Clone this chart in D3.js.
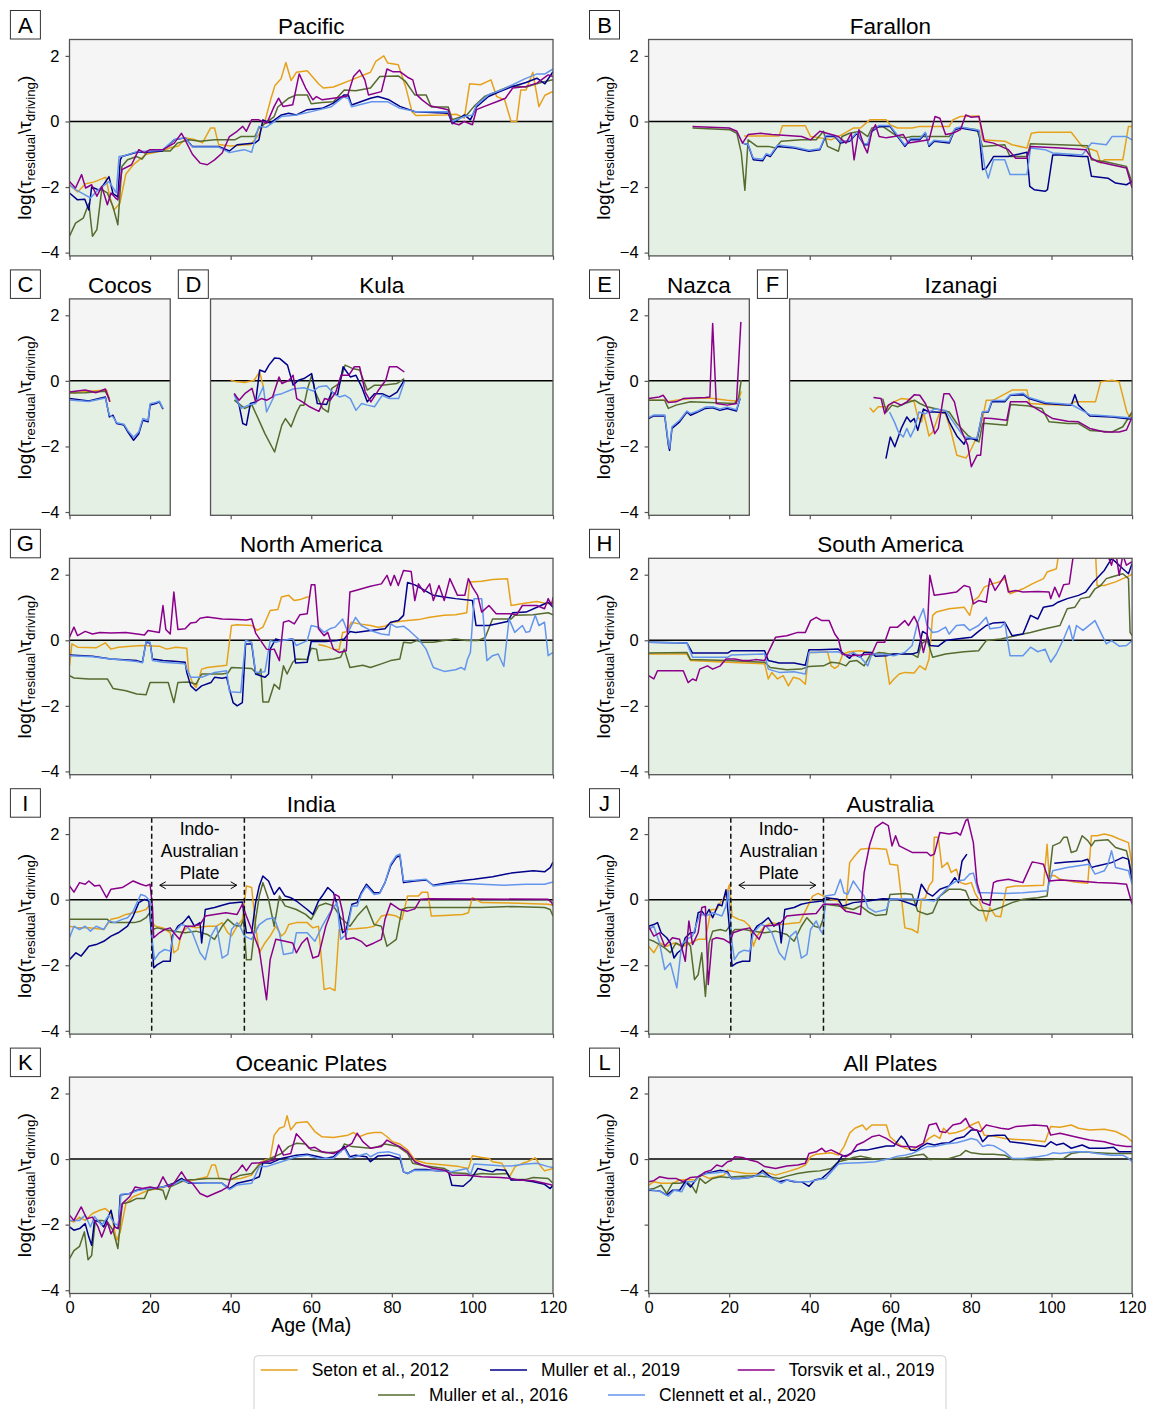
<!DOCTYPE html>
<html>
<head>
<meta charset="utf-8">
<script src="https://cdn.jsdelivr.net/npm/d3@7"></script>
<style>
  body { margin: 0; background: #fff; }
  text { font-family: "Liberation Sans", Arial, Helvetica, sans-serif; fill: #000; }
</style>
</head>
<body>
<svg id="fig" width="1158" height="1409"></svg>
<script>
// ---------- series names (plot order) ----------
const seriesNames = ["Seton et al., 2012", "Muller et al., 2016", "Muller et al., 2019", "Clennett et al., 2020", "Torsvik et al., 2019"];
const xTickValues = [0, 20, 40, 60, 80, 100, 120];
const yTickValues = [2, 0, -2, -4];
const yTickLabels = ["2", "0", "\u22122", "\u22124"];
const yTickLabelsAllPlates = ["2", "0", "", "\u22124"];
const indoAustralianSpan = [20.4, 43.4];

// ---------- A: Pacific ----------
const pacSeton = [[0,-1.93],[2,-2.15],[4,-1.9],[6,-1.85],[8,-1.75],[9,-1.7],[10,-2.3],[11,-2.7],[12.5,-2.5],[14,-1.6],[16,-1.3],[17,-1.2],[19,-1.0],[21,-0.95],[23,-0.9],[25,-0.8],[27,-0.75],[29,-0.5],[31,-0.55],[33,-0.65],[35,-0.2],[36,-0.2],[37,-0.7],[40,-0.75],[43,-0.72],[45,-0.7],[47,-0.4],[48.5,0],[50,0.7],[51,1.1],[52.5,1.3],[53.7,1.8],[55,1.25],[56.3,1.5],[59,1.55],[61.8,1.15],[63,1.02],[65.5,1.05],[70,1.27],[74.7,1.5],[76,1.83],[78,2.0],[79,1.78],[81.6,1.73],[83.4,1.07],[85,0.3],[86,0.18],[93,0.2],[96,0.22],[98,0.1],[99.3,1.15],[102,1.12],[104.6,1.27],[106,0.76],[108,0.66],[109.6,0],[111,0],[112,0.96],[113.3,0.96],[115,1.5],[116.5,0.45],[118,0.8],[120,0.92]];
const pacMuller16 = [[0,-3.5],[1.5,-3.1],[3.4,-2.95],[4.8,-2.5],[5.7,-3.5],[6.8,-3.3],[8,-2.08],[9.4,-2.18],[10.8,-2.6],[12,-3.15],[13,-1.37],[14.4,-1.17],[16.7,-1.07],[18,-1.15],[19.5,-0.9],[25,-0.9],[26.8,-0.66],[29.6,-0.56],[32.4,-0.6],[36,-0.56],[41,-0.56],[42.5,-0.46],[46,-0.46],[47,-0.2],[50.8,0.15],[51.7,0.44],[54.4,0.71],[56.3,0.81],[59,0.81],[60,0.54],[62.7,0.58],[65.5,0.6],[68.2,0.96],[71,0.94],[74.7,1.02],[77,1.37],[81.6,1.39],[83.4,1.22],[85.7,0.81],[88.5,0.81],[89.8,0.44],[94,0.44],[95,0.05],[98.6,0.2],[100.4,0.46],[103,0.76],[106,0.91],[109.6,1.09],[113.3,1.05],[117,1.19],[120,1.27]];
const pacMuller19 = [[0,-2.18],[2,-2.39],[3.8,-2.37],[4.8,-2.7],[5.5,-2.0],[7.5,-2.1],[9.8,-1.68],[10.8,-2.2],[12,-2.3],[12.6,-1.17],[13,-1.07],[16.7,-0.94],[20,-0.93],[23,-0.9],[26,-0.56],[28.7,-0.5],[30.5,-0.76],[37,-0.76],[39.7,-0.9],[41.6,-0.71],[46,-0.66],[47,-0.56],[48,0.05],[49.8,-0.05],[52.6,0.2],[54.4,0.25],[56.3,0.2],[59,0.36],[62.7,0.4],[65.5,0.56],[68.2,0.81],[69.2,0.81],[70,0.5],[74.7,0.71],[76.5,0.76],[79.3,0.66],[82,0.46],[85.7,0.3],[94,0.25],[95,-0.07],[98,0.2],[99.5,0.05],[101,0.44],[104,0.76],[106.8,0.91],[109.6,1.05],[113.3,1.19],[116,1.32],[118,1.15],[120,1.52]];
const pacClennett = [[0,-1.93],[1.5,-2.08],[5.2,-2.33],[7,-2.1],[9.8,-1.83],[11.6,-2.18],[12.3,-1.07],[13.5,-1.05],[16.7,-0.92],[20,-0.9],[23,-0.88],[26,-0.55],[28.7,-0.5],[30.5,-0.78],[37,-0.78],[39.7,-0.95],[41.6,-0.9],[43.4,-0.86],[45.2,-0.94],[47,-0.15],[48.8,-0.18],[52.6,0.15],[56.3,0.2],[60,0.3],[65,0.45],[68,0.75],[69.2,0.7],[70,0.45],[75,0.6],[79,0.6],[82,0.4],[86,0.3],[94,0.3],[95,0],[98,0.15],[100,0.2],[101,0.5],[104,0.82],[107,0.95],[110,1.12],[113,1.3],[116,1.45],[118,1.45],[120,1.6]];
const pacTorsvik = [[0,-1.83],[1.5,-2.03],[3,-1.62],[4,-2.03],[5.5,-1.93],[6.8,-2.28],[8,-1.98],[9.4,-2.54],[10.3,-2.18],[11.4,-2.33],[12,-2.39],[13,-1.47],[15.4,-1.32],[17.2,-0.86],[18.6,-0.96],[20,-0.86],[23.2,-0.86],[26,-0.66],[27.8,-0.36],[28.7,-0.56],[30.5,-1.0],[32.4,-1.27],[34.2,-1.32],[36,-1.17],[37.9,-0.96],[39.7,-0.46],[41.6,-0.3],[43,-0.15],[43.9,-0.3],[45.2,0.05],[47,0.05],[49,-0.05],[50.8,0.46],[51.9,0.71],[53,0.46],[55.4,0.51],[57,1.45],[58.6,1.02],[60.4,0.66],[61.3,0.76],[62.7,0.66],[65.5,0.71],[69,0.78],[70.5,1.37],[72,1.57],[73.3,1.27],[74.2,0.81],[77.4,0.91],[78.8,1.6],[80.2,1.52],[82,1.52],[83.9,1.35],[85.2,1.27],[86.2,0.81],[87.5,0.66],[89.4,0.48],[94,0.36],[95,-0.05],[96.7,-0.1],[98,0],[100,-0.1],[101,0.36],[103,0.46],[106,0.6],[108.2,0.71],[110,1.02],[113.3,1.07],[116,1.17],[118.8,1.42],[120,1.37]];

// ---------- B: Farallon ----------
const farSeton = [[23.7,-0.44],[32.4,-0.44],[33.2,-0.13],[38.9,-0.13],[40.2,-0.46],[42.5,-0.5],[45.3,-0.56],[48,-0.4],[50.8,-0.2],[52.6,-0.2],[54.9,0.05],[59,0.05],[59.9,-0.1],[61.8,-0.2],[65.4,-0.2],[67.3,-0.15],[74.6,-0.15],[75.5,0.05],[77.4,0.15],[82,0.17],[82.9,-0.56],[88.4,-0.6],[90.2,-0.71],[93.9,-0.81],[95,-0.36],[96.6,-0.33],[104.9,-0.33],[107.6,-0.76],[111.3,-0.91],[112.2,-1.27],[113.1,-1.17],[117.7,-1.17],[119.1,-0.15],[120,-0.15]];
const farMuller16 = [[10.9,-0.2],[20.1,-0.25],[21.9,-0.36],[23,-0.96],[23.9,-2.1],[24.7,-0.56],[26.9,-0.76],[29.7,-0.76],[31.5,-0.81],[32.9,-0.6],[37.9,-0.56],[41.6,-0.56],[43.4,-0.3],[44.4,-0.76],[47.1,-0.91],[48,-0.46],[49.9,-0.36],[52.6,-0.3],[54.4,-0.46],[55.4,-0.2],[58.1,-0.15],[59.9,-0.3],[61.8,-0.46],[63.6,-0.5],[65.4,-0.46],[72.3,-0.46],[74.6,-0.46],[76.4,-0.2],[78.3,-0.2],[81.5,-0.25],[82.9,-0.76],[88.4,-0.71],[89.7,-1.07],[93.9,-1.07],[94.8,-0.68],[102.1,-0.71],[109,-0.74],[109.9,-1.17],[113.1,-1.22],[118.6,-1.37],[120,-1.88]];
const farMuller19 = [[23.3,-0.66],[24.7,-0.71],[26,-1.17],[28.3,-1.2],[29.2,-1.02],[30.2,-1.07],[32,-0.76],[36.1,-0.81],[39.8,-0.91],[42.5,-0.86],[43.9,-0.46],[46.2,-0.46],[47.6,-0.66],[49.9,-0.6],[51.7,-0.36],[53.5,-0.71],[54.4,-0.71],[55.4,-0.3],[57.2,-0.15],[59.9,-0.15],[61.8,-0.46],[63.6,-0.76],[65,-0.56],[67.3,-0.56],[68.7,-0.36],[69.6,-0.76],[70.9,-0.6],[74.6,-0.66],[76,-0.25],[77.4,-0.2],[82,-0.3],[82.9,-1.47],[83.8,-1.42],[85.6,-1.07],[89.3,-1.07],[93.9,-0.94],[94.6,-1.98],[95.7,-2.08],[98.4,-2.13],[99,-2.08],[100.3,-1.02],[102.1,-1.02],[107.6,-1.07],[109,-1.07],[109.9,-1.67],[114,-1.73],[115.9,-1.88],[118.6,-1.93],[120,-1.83]];
const farClennett = [[23.3,-0.66],[24.7,-0.7],[26,-1.12],[28.3,-1.15],[29.2,-0.98],[30.2,-1.03],[32,-0.72],[36.1,-0.78],[39.8,-0.88],[42.5,-0.83],[43.9,-0.43],[46.2,-0.43],[47.6,-0.62],[49.9,-0.57],[51.7,-0.33],[53.5,-0.68],[54.4,-0.68],[55.4,-0.27],[57.2,-0.12],[59.9,-0.12],[61.8,-0.43],[63.6,-0.72],[65,-0.52],[67.3,-0.52],[68.7,-0.33],[69.6,-0.72],[70.9,-0.57],[74.6,-0.62],[76,-0.22],[77.4,-0.17],[82,-0.27],[83.4,-1.37],[84.3,-1.73],[85.6,-1.17],[88.4,-1.17],[89.7,-1.62],[93.9,-1.62],[94.8,-0.81],[98.4,-0.86],[100.3,-0.96],[107.6,-1.02],[109.9,-0.66],[113.6,-0.71],[115,-0.46],[118.6,-0.46],[120,-0.56]];
const farTorsvik = [[10.9,-0.15],[20,-0.2],[21.9,-0.3],[23.3,-0.66],[24.7,-0.4],[27.9,-0.36],[30.6,-0.4],[38,-0.46],[40.2,-0.56],[42.5,-0.3],[47.1,-0.46],[49,-0.66],[50.3,-0.36],[51,-1.17],[52.2,-0.25],[53.5,-0.76],[54.3,-0.96],[55.4,-0.3],[56.3,-0.1],[57.2,-0.46],[59,-0.5],[60.9,-0.46],[63.2,-0.4],[64.5,-0.66],[67.3,-0.6],[69.6,-0.56],[71.1,0.15],[72.3,0.1],[73.7,-0.4],[75.5,-0.36],[77.4,-0.25],[78.7,0.2],[80.1,0.13],[82,0.15],[83.3,-0.6],[85.6,-0.66],[89.3,-0.86],[91.1,-1.12],[93.9,-1.12],[94.8,-0.76],[102.1,-0.81],[108.5,-0.86],[109.9,-1.12],[111.3,-1.22],[114.9,-1.32],[118.6,-1.42],[120,-2.03]];

// ---------- C: Cocos ----------
const cocSeton = [[0,-0.32],[1.1,-0.36],[4.8,-0.32],[9.2,-0.28],[10.1,-0.64]];
const cocMuller16 = [[0,-0.37],[3.9,-0.36],[8.9,-0.32],[9.9,-0.54]];
const cocMuller19 = [[0,-0.54],[4.8,-0.61],[8.9,-0.49],[9.9,-1.1],[10.8,-1.05],[11.7,-1.3],[13.5,-1.35],[14.5,-1.56],[15.9,-1.81],[17.2,-1.61],[18.2,-1.2],[19.5,-1.25],[20,-0.74],[21.4,-0.69],[22.3,-0.64],[23.2,-0.86]];
const cocClennett = [[0,-0.58],[4.8,-0.63],[8.9,-0.52],[9.9,-1.05],[10.8,-1.1],[11.7,-1.28],[13.5,-1.32],[14.5,-1.52],[15.9,-1.72],[17.2,-1.55],[18.2,-1.15],[19.5,-1.2],[20,-0.7],[21.4,-0.66],[22.3,-0.62],[23.2,-0.84]];
const cocTorsvik = [[0,-0.34],[3.9,-0.28],[6.6,-0.36],[8.9,-0.25],[10,-0.64]];

// ---------- D: Kula ----------
const kulSeton = [[40,0.02],[41.6,-0.03],[43.5,-0.05],[45.8,0.02],[47.2,0.27],[48.1,-0.18]];
const kulMuller16 = [[40.9,-0.59],[43.5,-0.84],[45.3,-0.74],[47.2,-1.25],[48.5,-1.61],[50.9,-2.17],[52.7,-1.35],[53.6,-1.15],[55,-1.4],[56.4,-0.95],[57.3,-0.74],[58.2,-0.74],[59.1,-0.23],[60.1,0.17],[61,-0.34],[62.8,-0.84],[64.2,-0.95],[65.1,-0.23],[67,-0.08],[68.4,0.48],[70.2,0.38],[72,0.33],[73.9,-0.28],[75.7,-0.13],[77.6,-0.13],[81.3,-0.08],[83.1,0.07]];
const kulMuller19 = [[40.9,-0.39],[42.1,-0.74],[43,-1.3],[43.9,-1.35],[44.9,-0.69],[46.2,-0.64],[47.2,0.33],[48.5,0.27],[49.5,0.48],[50.9,0.7],[52.2,0.68],[54.1,0.48],[55.5,-0.13],[56.8,0.02],[58.2,0.07],[60.1,0.22],[61.5,-0.69],[63.8,-0.72],[65.1,-0.34],[66.5,-0.44],[67.9,0.43],[69.7,0.12],[71.1,0.17],[72.5,-0.18],[73.9,-0.64],[75.7,-0.39],[77.6,-0.39],[79.4,-0.49],[81.3,-0.34],[83.1,0.02]];
const kulClennett = [[40.9,-0.44],[42.6,-0.84],[44.4,-0.74],[46.2,-0.69],[48.1,-0.18],[48.9,-0.95],[50.9,-0.44],[52.7,-0.39],[55.5,-0.25],[58.2,-0.21],[60.5,-0.31],[61.9,-0.18],[63.8,-0.15],[65.6,-0.39],[67,-0.49],[68.4,-0.44],[69.7,-0.54],[71.1,-0.9],[72.5,-0.69],[73.9,-0.74],[75.7,-0.79],[77.6,-0.44],[79.4,-0.54],[81.7,-0.54],[83.1,-0.03]];
const kulTorsvik = [[40.9,-0.39],[42.1,-0.59],[43.5,-0.39],[45.3,-0.23],[46.2,-0.64],[47.6,-0.54],[49,-0.59],[50.4,-0.49],[52,0.12],[52.7,-0.08],[54.5,0.02],[55.5,0.17],[56.4,-0.54],[57.8,-0.64],[59.6,-0.79],[61.9,-0.93],[63.3,-0.54],[64.7,-0.59],[66.1,-0.34],[67.4,0.17],[69.3,0.17],[70.7,0.43],[72,0.43],[73.4,-0.34],[74.8,-0.64],[76.7,-0.28],[78.5,0.02],[79.4,0.43],[81.3,0.43],[83.1,0.27]];

// ---------- E: Nazca ----------
const nazSeton = [[0,-0.59],[4,-0.59],[4.9,-0.64],[6.8,-0.59],[10.4,-0.54],[15,-0.52],[19.5,-0.59],[22.3,-0.62],[23,-0.32]];
const nazMuller16 = [[0,-0.59],[4,-0.59],[4.9,-0.84],[6.8,-0.74],[10.4,-0.64],[15,-0.66],[21.3,-0.69],[22.3,-0.54],[23,0.02]];
const nazMuller19 = [[0,-1.15],[1.3,-1.07],[4,-1.07],[4.9,-1.96],[5.2,-2.12],[5.8,-1.45],[7.7,-1.25],[9.5,-0.95],[10.4,-1.05],[12.2,-0.95],[14.1,-0.84],[15.9,-0.82],[17.7,-0.9],[19.5,-0.84],[21.8,-0.92],[22.7,-0.54]];
const nazClennett = [[0,-1.12],[1.3,-1.04],[4,-1.04],[4.9,-1.9],[5.2,-2.05],[5.8,-1.4],[7.7,-1.2],[9.5,-0.92],[10.4,-1.0],[12.2,-0.92],[14.1,-0.8],[15.9,-0.79],[17.7,-0.86],[19.5,-0.8],[21.8,-0.88],[22.7,-0.52]];
const nazTorsvik = [[0,-0.54],[2.6,-0.49],[3.6,-0.44],[4.9,-0.66],[6.8,-0.64],[8.6,-0.54],[14.1,-0.51],[15.2,-0.49],[15.9,1.75],[16.8,-0.69],[19.5,-0.74],[21.8,-0.69],[22.9,1.8]];

// ---------- F: Izanagi ----------
const izaSeton = [[54.9,-0.82],[55.8,-0.95],[57,-0.79],[59,-0.79],[60.9,-0.64],[62.7,-0.54],[64.5,-0.56],[65.9,-0.64],[66.8,-1.1],[67.8,-1.25],[68.2,-0.95],[69.6,-1.68],[70.5,-1.56],[72.3,-0.95],[73.7,-1.0],[75.1,-1.56],[76.5,-2.27],[78.8,-2.35],[79.7,-2.17],[81.5,-1.71],[82.9,-1.15],[83.8,-0.59],[85.6,-0.59],[90.2,-0.28],[93.9,-0.28],[94.6,-0.69],[98.5,-0.72],[104,-0.74],[105.8,-0.64],[110.9,-0.64],[112.2,-0.03],[115,0.02],[116.8,-0.03],[118.7,-0.95],[119.6,-1.15],[120,-0.95]];
const izaMuller16 = [[58.1,-0.54],[59,-0.95],[60.4,-0.74],[61.8,-0.79],[63.6,-0.69],[66,-0.59],[67.3,-0.69],[69.1,-0.79],[71,-0.84],[74.6,-0.95],[76.5,-1.3],[79.2,-1.66],[81.1,-1.81],[82,-1.86],[82.9,-1.3],[83.8,-1.3],[88.9,-1.35],[89.8,-0.72],[93.9,-0.76],[97.6,-0.84],[99.4,-1.25],[104,-1.3],[106.7,-1.3],[109.5,-1.51],[115,-1.56],[117.7,-1.4],[120,-0.95]];
const izaMuller19 = [[58.9,-2.37],[60,-1.71],[61.1,-2.01],[62.7,-1.45],[64.1,-1.1],[65,-1.25],[65.9,-1.15],[66.8,-1.51],[68.2,-0.86],[69.6,-0.95],[71,-0.95],[73.7,-0.97],[74.6,-1.25],[76.5,-1.68],[78.3,-1.93],[78.8,-1.78],[80.1,-1.76],[81.5,-1.81],[82.9,-0.95],[84.3,-0.95],[85.2,-0.64],[88.4,-0.64],[89.8,-0.44],[93,-0.42],[94.4,-0.54],[98.5,-0.69],[104.9,-0.74],[105.8,-0.42],[106.7,-0.74],[109.5,-1.07],[115,-1.1],[120,-1.17]];
const izaClennett = [[59.8,-0.95],[61,-1.25],[62,-1.56],[63.2,-1.71],[64.1,-1.45],[65,-1.71],[66,-1.45],[67.1,-0.95],[68.7,-1.0],[71,-0.86],[73.7,-0.9],[75.6,-1.25],[78.3,-1.71],[81.5,-1.76],[82.9,-0.95],[84.3,-0.92],[85.2,-0.6],[88.4,-0.6],[89.8,-0.42],[93,-0.38],[94.4,-0.51],[98.5,-0.66],[104.9,-0.72],[109.5,-1.03],[115,-1.08],[120,-1.13]];
const izaTorsvik = [[55.8,-0.51],[57.7,-0.54],[58.6,-1.0],[59.5,-0.74],[60.9,-0.64],[62.7,-0.74],[64.1,-0.64],[66,-0.42],[67.3,-0.44],[68.7,-0.69],[69.6,-0.95],[71,-1.61],[71.9,-1.45],[73.3,-0.39],[74.6,-0.39],[75.9,-0.64],[77.4,-1.45],[79.2,-1.96],[80.1,-2.62],[81.5,-2.27],[82.4,-2.27],[83.3,-1.13],[85.2,-1.15],[88.9,-1.2],[89.8,-0.64],[93.9,-0.64],[94.8,-0.74],[100.3,-1.15],[104,-1.23],[106.7,-1.25],[109.5,-1.45],[113.2,-1.56],[116.8,-1.56],[118.6,-1.5],[120,-1.1]];

// ---------- G: North America ----------
const naSeton = [[0,-0.78],[0.6,-0.11],[2,-0.21],[6.6,-0.23],[8.9,-0.08],[10.3,-0.27],[12.1,-0.21],[17.7,-0.16],[22.3,-0.18],[24.1,-0.27],[26.4,-0.21],[29.1,-0.24],[29.6,-0.98],[30.5,-1.29],[31.4,-1.44],[32.8,-0.88],[34.2,-0.83],[37.9,-0.78],[39,-0.76],[40.2,0.45],[41.6,0.47],[45.2,0.45],[46.6,0.3],[48,0.4],[48.9,0.65],[49.8,0.91],[51.7,0.94],[52.6,1.32],[54.4,1.37],[55.8,1.21],[57.2,1.24],[59,1.32],[59.6,1.32],[60.2,null],[61.7,null],[61.8,-0.13],[63.6,-0.18],[65.5,-0.27],[66.9,-0.29],[67.8,0.24],[68.7,0.26],[70,0.55],[71.9,0.5],[74.7,0.45],[76.5,0.4],[78.3,0.43],[80.2,0.55],[83.9,0.6],[86.6,0.63],[89.4,0.7],[93,0.76],[95.8,0.78],[98.6,0.84],[99.3,1.78],[102.3,1.8],[105,1.85],[108.7,1.88],[109.6,1.06],[113.3,1.14],[116,1.18],[118.8,1.11],[120,1.18]];
const naMuller16 = [[0,-1.08],[1.1,-1.15],[4.8,-1.18],[9.4,-1.18],[10.8,-1.47],[14,-1.54],[16.7,-1.64],[19,-1.66],[20,-1.29],[23.2,-1.29],[24.5,-1.29],[25.9,-1.9],[26.9,-1.29],[29.6,-1.27],[31.4,-1.34],[32.8,-1.03],[37.9,-1.03],[39.3,-1.0],[40.2,-0.83],[45.2,-0.86],[46.2,-0.98],[47,-1.03],[47.5,-0.88],[48,-1.88],[49.4,-1.88],[50.8,-1.34],[52.1,-1.49],[53.1,-0.78],[54,-1.03],[55.4,-0.67],[56.3,-0.57],[59,-0.59],[60,-0.24],[61.3,-0.27],[61.8,-0.62],[65.5,-0.57],[67.3,-0.52],[68.2,-0.27],[69.6,-0.83],[72.8,-0.76],[74.7,-0.83],[77.4,-0.72],[79.7,-0.62],[82,-0.57],[82.9,-0.06],[84.8,-0.08],[86.2,-0.01],[87.5,-0.06],[90.3,-0.06],[93,-0.01],[95.8,0.04],[98.6,-0.01],[101.3,-0.01],[103.2,0.09],[105,0.65],[109.6,0.65],[110.5,0.76],[115.1,0.78],[118.8,0.84],[120,0.78]];
const naMuller19 = [[0,-0.45],[5.7,-0.49],[10.3,-0.57],[16.7,-0.62],[18.1,-0.67],[19,-0.06],[20,-0.08],[20.6,-0.57],[23.2,-0.62],[25.9,-0.64],[28.7,-0.67],[29.1,-0.98],[30.1,-1.39],[31.4,-1.54],[32.8,-1.39],[35.1,-1.29],[36,-1.13],[37.9,-1.16],[39,-1.13],[39.7,-1.49],[40.6,-1.9],[41.6,-2.0],[42.9,-1.9],[43.7,-0.11],[45.2,-0.11],[46.2,-1.03],[48.5,-1.13],[49.4,-1.03],[49.8,-0.27],[51.2,0.04],[52.6,-0.01],[55.4,0.04],[56.1,-0.69],[59,-0.67],[60,-0.03],[63.6,-0.04],[66.4,-0.01],[68.2,0.04],[69.6,0.27],[71,0.24],[74.7,0.3],[78.3,0.35],[79.7,0.55],[81.6,0.6],[82.9,0.76],[83.9,1.76],[85.7,1.69],[87.5,1.57],[88.9,1.47],[90.3,1.37],[93,1.32],[95.8,1.27],[100,1.21],[100.9,0.45],[104.1,0.45],[108.7,0.57],[110,0.84],[113.3,0.86],[117,1.06],[118.8,1.16],[120,1.01]];
const naClennett = [[0,-0.47],[5.7,-0.5],[10.3,-0.57],[16.7,-0.65],[18.1,-0.69],[19,-0.04],[20,-0.06],[20.6,-0.62],[23.2,-0.67],[25.9,-0.69],[28.7,-0.72],[29.1,-0.88],[30.1,-1.13],[32.8,-1.13],[36,-0.98],[39,-0.93],[39.7,-1.57],[42.5,-1.59],[43.7,-0.01],[45.2,-0.06],[46.2,-0.98],[48.5,-0.96],[49.8,-0.01],[51.2,-0.06],[52.6,-0.01],[55.4,0.04],[56.3,-0.16],[59,-0.01],[60,0.45],[61.8,0.4],[63.2,0.24],[64.6,0.35],[65.9,0.4],[67.8,0.65],[69.1,0.24],[71,0.7],[72.4,0.45],[74.7,0.3],[77.4,0.19],[79.3,0.16],[79.7,0.5],[81.1,0.4],[82.9,0.43],[84.3,0.3],[86.6,0.04],[88.5,-0.27],[90.3,-0.83],[93,-0.95],[95.8,-0.9],[97.2,-0.83],[98.1,-0.9],[98.8,-0.57],[99.5,-0.37],[100.4,1.27],[102.3,1.27],[103.6,-0.62],[105,-0.47],[106.4,-0.42],[107.8,-0.8],[109.1,0.65],[110.5,0.24],[112.4,0.45],[113.3,0.24],[114.2,0.27],[115.6,0.76],[116.5,0.45],[117.9,0.55],[118.8,-0.47],[120,-0.37]];
const naTorsvik = [[0,0.09],[1.1,0.4],[2,0.14],[3.9,0.27],[5.7,0.19],[7.5,0.24],[10.3,0.22],[14,0.24],[18.6,0.16],[19.5,0.3],[22.3,0.24],[23.2,1.06],[23.9,0.33],[25,0.19],[25.9,1.47],[26.9,0.33],[28.7,0.35],[30.1,0.53],[31.4,0.55],[32.4,0.67],[34.2,0.71],[37.9,0.65],[41.6,0.63],[43.9,0.62],[45.2,0.65],[46.2,0.22],[48,-0.11],[48.9,-0.27],[49.8,-0.29],[50.8,-0.27],[52.1,-0.62],[53.1,0.55],[54.4,0.6],[55.8,0.5],[57.2,0.78],[59,0.81],[60,1.69],[60.9,1.69],[61.8,0.35],[63.2,0.14],[64.1,0.24],[65.5,-0.27],[66.9,-0.37],[68.7,-0.32],[69.6,1.47],[71,1.52],[74.7,1.65],[77.4,1.72],[78.8,1.98],[79.7,1.67],[80.6,1.98],[81.6,1.67],[82.9,2.13],[84.8,2.1],[85.7,1.21],[86.6,1.72],[88,1.47],[89.4,1.72],[90.3,1.21],[91.7,1.67],[93,1.21],[94.4,1.88],[96.3,1.37],[98.1,1.37],[99,1.88],[100,1.62],[101.3,1.37],[102.3,0.86],[104.1,1.06],[105.9,0.81],[109.6,0.81],[111,0.78],[112.4,1.06],[116,1.06],[117.9,0.96],[118.8,1.27],[119.7,1.06],[120,1.32]];

// ---------- H: South America ----------
const saSeton = [[0,-0.42],[9.5,-0.42],[10.4,-0.62],[19.6,-0.67],[28.8,-0.72],[29.7,-1.18],[30.6,-0.98],[32,-1.18],[33.4,-1.08],[34.7,-1.39],[35.9,-1.13],[37.5,-1.18],[38.9,-1.34],[39.8,-0.37],[41.6,-0.37],[44.4,-0.35],[45.3,-0.78],[46.2,-0.86],[47.1,-0.78],[48.2,-0.42],[49.9,-0.35],[52.6,-0.32],[54.9,-0.37],[56.3,-0.42],[58.6,-0.37],[59.8,-1.34],[60.9,-1.18],[62.2,-1.03],[63.6,-0.98],[65.9,-1.0],[67.3,-0.78],[68.7,-0.9],[69.6,-0.57],[70.5,0.76],[71.4,0.86],[74.6,0.96],[78.3,1.01],[79.7,0.76],[80.6,1.21],[81.9,1.32],[83.3,1.62],[85.2,1.72],[87,1.78],[88.4,1.88],[89.3,1.57],[89.7,1.42],[92.9,1.57],[95.2,1.72],[98,1.88],[98.9,2.08],[101.2,2.18],[101.6,2.49],[104,2.9],[108,3.1],[110.8,3.0],[111.3,1.67],[113.1,1.67],[115.9,1.78],[119.5,1.98],[120,2.03]];
const saMuller16 = [[0,-0.39],[9.5,-0.37],[10.4,-0.59],[19.6,-0.62],[28.8,-0.67],[30.2,-0.83],[34.3,-0.9],[37.9,-0.88],[39.8,-0.8],[43.4,-0.78],[45.3,-0.67],[47.1,-0.69],[49,-0.78],[49.9,-0.65],[51.7,-0.62],[53.5,-0.78],[54.9,-0.47],[57.2,-0.37],[59.9,-0.42],[65.4,-0.42],[66.8,-0.52],[67.7,-0.11],[69.1,0.02],[70.5,-0.52],[73.7,-0.42],[78.3,-0.35],[81.9,-0.32],[83.8,-0.01],[87.4,0.04],[91.1,0.14],[94.8,0.24],[98.4,0.35],[102.1,0.45],[103.9,0.96],[105.8,1.01],[107.2,1.27],[109.4,1.32],[110.8,1.57],[112.2,1.67],[113.6,1.88],[114.9,1.93],[116.8,2.0],[117.7,2.03],[119.1,1.88],[119.5,0.24],[120,0.14]];
const saMuller19 = [[0,-0.06],[9.5,-0.08],[10.9,-0.39],[19.6,-0.39],[20.5,-0.32],[28.8,-0.32],[29.7,-0.62],[32.4,-0.69],[36.1,-0.69],[38.9,-0.76],[39.8,-0.29],[42.5,-0.29],[47.1,-0.27],[48.5,-0.42],[49.9,-0.55],[50.8,-0.42],[52.6,-0.52],[53.5,-0.37],[55.4,-0.37],[56.3,-0.49],[59,-0.47],[60.9,-0.42],[65.4,-0.42],[66.8,-0.37],[68,0.27],[69.1,0.19],[69.8,-0.16],[71.9,-0.18],[73.7,-0.01],[76.4,0.04],[80.1,0.09],[81.9,0.27],[83.8,0.45],[85.6,0.53],[88.4,0.55],[90.2,0.14],[92.9,0.19],[94.8,0.76],[96.6,0.65],[98,1.01],[100.3,1.06],[101.6,1.16],[103.9,1.27],[106.7,1.37],[108.5,1.47],[110.4,1.78],[113.1,2.13],[114.9,2.49],[115.9,2.39],[117.7,2.18],[119.1,2.03],[120,2.34]];
const saClennett = [[0,-0.06],[9.5,-0.08],[10.9,-0.52],[19.6,-0.52],[20.5,-0.45],[28.8,-0.42],[29.7,-0.88],[32.4,-0.98],[36.1,-0.96],[38.9,-1.03],[39.8,-0.37],[47.1,-0.35],[49,-0.47],[50.8,-0.37],[52.6,-0.52],[54.4,-0.78],[55.4,-0.42],[58.1,-0.42],[60.9,-0.47],[63.6,-0.37],[65.4,-0.16],[66.8,0.55],[68.2,0.96],[69.1,0.45],[70.5,0.24],[71.9,0.27],[73.7,0.4],[74.6,0.19],[76.4,0.45],[78.3,0.47],[79.7,0.3],[81.9,0.45],[83.8,0.7],[84.7,0.35],[87.4,0.4],[88.4,0.53],[89.7,-0.47],[92.9,-0.47],[94.8,-0.21],[96.6,-0.35],[98.4,-0.27],[99.8,-0.67],[101.2,-0.42],[103,0.04],[104.4,0.45],[105.3,-0.01],[106.2,0.45],[107.8,0.3],[110.8,0.6],[112.2,0.24],[113.6,-0.11],[114.9,-0.01],[116.8,-0.18],[118.6,-0.16],[120,-0.01]];
const saTorsvik = [[0,-1.08],[1.3,-1.18],[2.2,-0.93],[8.6,-0.93],[9.8,-1.29],[10.9,-1.18],[11.8,-1.23],[12.7,-0.88],[14.6,-0.78],[15.9,-0.88],[17.8,-0.78],[19.2,-0.57],[21.4,-0.57],[23.3,-0.62],[25.1,-0.62],[26.5,-0.59],[28.8,-0.62],[29.7,-0.37],[31.5,0.09],[34.3,0.14],[37,0.24],[38.9,0.24],[40.2,0.6],[41.6,0.7],[43,0.6],[44.8,0.6],[46.2,0.19],[47.1,0.04],[48,-0.42],[49.9,-0.47],[52.6,-0.45],[55.4,-0.42],[56.7,-0.06],[58.6,-0.06],[59.9,0.4],[61.8,0.4],[63.6,0.6],[64.5,0.45],[65.9,0.73],[66.8,0.5],[68.2,-0.37],[69.1,0.09],[69.8,1.98],[70.9,1.37],[73.7,1.42],[76.4,1.47],[78.3,1.67],[79.7,1.62],[80.6,1.11],[81.9,1.21],[83.8,1.16],[84.7,1.88],[86,1.52],[87.4,1.78],[88.4,1.98],[89.3,1.47],[91.1,1.52],[92.9,1.47],[96.6,1.49],[99.4,1.47],[99.8,1.27],[100.8,1.62],[101.9,1.32],[103,1.69],[104.4,1.72],[105.3,2.49],[108,3.0],[112,3.2],[114.9,2.29],[115.8,2.8],[116.8,1.98],[117.7,2.6],[118.6,2.29],[120,2.4]];

// ---------- I: India ----------
const indSeton = [[0,-0.81],[2,-0.86],[4.8,-0.86],[8.5,-0.91],[10.3,-0.6],[12.1,-0.55],[14,-0.45],[15.8,-0.4],[17.7,-0.35],[19,-0.3],[20,-0.14],[20.6,-0.7],[21.3,-0.81],[23.2,-0.86],[25,-1.01],[25.9,-1.62],[26.9,-1.52],[27.8,-1.01],[29.6,-0.81],[31.4,-0.86],[34.2,-0.81],[36.5,-0.81],[37.9,-0.7],[39.3,-1.01],[40.2,-1.11],[41.6,-0.81],[42.9,-0.6],[43.9,0.42],[45.2,0.37],[46.2,-0.81],[47.1,-1.62],[48.5,-1.32],[49.8,-1.11],[51.2,-0.81],[52.6,-1.11],[53.5,-1.01],[54.4,-0.76],[56.3,-0.7],[59,-0.7],[60.4,-0.86],[61.8,-0.81],[63.2,-2.74],[64.6,-2.69],[65.9,-2.77],[66.9,-0.91],[68.2,-0.91],[71,-0.89],[73.7,-0.86],[75.6,-0.81],[77.4,-0.5],[79.3,-0.45],[81.1,-0.5],[82.5,-0.6],[83.9,0.11],[86.6,0.11],[87.5,0.23],[88.9,0.23],[89.8,-0.5],[93.1,-0.48],[97.6,-0.45],[99,-0.4],[100,0.06],[102.3,-0.09],[111.5,-0.11],[118.8,-0.14],[120,-0.17]];
const indMuller16 = [[0,-0.6],[9.4,-0.6],[10.3,-0.7],[14,-0.7],[16.1,-0.7],[17.7,-0.65],[19,-0.55],[20,-0.38],[20.6,-0.91],[21.8,-0.86],[23.6,-0.91],[25.9,-0.96],[28.7,-1.01],[31.4,-0.96],[34.2,-1.06],[36,-1.21],[37.9,-0.81],[39.3,-0.6],[41.1,-0.79],[42.5,-0.81],[43.2,-0.6],[43.9,-1.83],[45.1,-1.83],[46.2,-0.6],[47.1,0.11],[48,0.52],[49.4,0.01],[50.8,-0.81],[52.1,0.11],[53.5,-0.19],[56.3,-0.3],[58.6,-0.45],[60,-0.6],[61.8,-0.19],[63.6,-0.11],[65.5,-0.19],[67.3,-0.55],[69.6,-0.81],[71.4,-0.5],[73.7,-0.19],[75.6,-0.76],[77.4,-0.81],[78.8,-1.42],[81.1,-1.21],[82.5,-0.3],[83.9,-0.24],[93.1,-0.24],[102.3,-0.24],[109.6,-0.21],[117.9,-0.24],[119.3,-0.3],[120,-0.5]];
const indMuller19 = [[0,-1.83],[1.6,-1.62],[2.9,-1.72],[4.8,-1.42],[6.6,-1.37],[8.5,-1.27],[10.3,-1.11],[12.1,-1.01],[14.4,-0.81],[15.8,-0.5],[17.2,-0.09],[18.6,0.01],[19.7,-0.04],[20.6,-1.47],[20.9,-2.08],[21.8,-1.98],[23.2,-1.88],[25,-1.88],[25.5,-1.11],[26.9,-0.81],[28.2,-0.7],[29.6,-0.5],[31,-0.81],[32.4,-0.7],[32.8,-1.32],[33.7,-0.3],[36,-0.24],[37.9,-0.17],[39.7,-0.11],[42.9,-0.07],[43.9,-1.01],[45.2,-1.01],[46.2,-0.09],[47.1,0.42],[48,0.72],[49.4,0.57],[50.8,0.16],[52.1,0.37],[53.5,0.11],[54.9,0.06],[56.3,-0.04],[59,-0.3],[60.4,-0.45],[61.8,-0.04],[62.7,0.11],[64.1,0.37],[65.5,0.21],[66.4,-0.14],[67.8,-1.01],[68.7,-0.91],[70.1,-0.14],[71.4,-0.09],[72.4,0.21],[73.7,0.47],[75.6,0.21],[77,0.21],[78.3,0.52],[79.7,1.03],[81.1,1.29],[82,1.34],[82.9,0.52],[85.7,0.57],[88.5,0.6],[90.3,0.44],[93.1,0.5],[96.7,0.57],[100.4,0.62],[105,0.7],[109.6,0.81],[115.1,0.88],[117.9,0.85],[119.3,0.98],[120,1.15]];
const indClennett = [[0,-1.16],[1.1,-0.81],[2.5,-0.91],[3.9,-0.81],[5.2,-0.96],[6.6,-0.81],[8.5,-0.91],[9.8,-0.65],[11.2,-0.7],[13.1,-0.6],[14.4,-0.55],[15.8,-0.35],[17.7,0.16],[18.8,0.11],[20,-0.04],[20.6,-1.32],[21.1,-1.83],[22.3,-1.62],[23.6,-1.52],[25,-1.57],[25.9,-1.01],[27.8,-0.76],[29.1,-0.81],[30.5,-1.01],[32.4,-1.62],[33.7,-1.83],[35.1,-1.11],[36.5,-0.81],[37.9,-1.78],[39.3,-1.67],[40.2,-0.91],[41.6,-0.7],[42.5,-0.86],[43.4,-1.11],[45.2,-1.21],[47.1,-0.76],[48.9,-0.6],[50.8,-0.55],[52.1,-1.01],[53.1,-1.67],[55.4,-1.62],[56.3,-1.01],[59,-1.01],[60.9,-1.27],[62.7,-0.81],[64.6,-0.4],[66.4,-0.09],[67.3,-1.21],[68.7,-1.06],[70.1,-0.19],[71.4,-0.19],[72.4,0.16],[73.7,0.42],[75.6,0.16],[77,0.19],[78.3,0.52],[79.7,1.08],[81.1,1.34],[82,1.39],[82.9,0.57],[85.7,0.59],[88.5,0.62],[90.3,0.42],[93.1,0.46],[96.7,0.5],[102.3,0.47],[107.8,0.44],[113.3,0.47],[117.9,0.47],[120,0.54]];
const indTorsvik = [[0,0.42],[1.1,0.23],[2.5,0.52],[3.9,0.47],[4.8,0.57],[6.2,0.42],[7.5,0.44],[9.2,0.06],[10.3,0.32],[13.1,0.37],[15.8,0.57],[17.7,0.47],[19,0.42],[20,0.47],[20.6,-0.24],[20.9,-1.16],[22.3,-1.01],[23.6,-0.91],[25,-0.86],[25.9,-1.01],[27.3,-1.21],[28.7,-0.81],[30.5,-0.81],[32.4,-0.76],[33.7,-0.5],[36,-0.45],[38.8,-0.4],[41.6,-0.45],[42.9,-0.14],[43.9,-0.5],[45.2,-0.91],[47.1,-1.52],[48.9,-3.05],[49.8,-1.83],[51.2,-1.21],[53.5,-1.27],[55.4,-1.32],[56.3,-1.62],[57.7,-1.32],[59,-1.16],[60.4,-1.78],[61.8,-1.72],[63.6,-0.81],[65,-0.35],[65.9,0.16],[66.9,0.09],[67.8,-0.4],[68.7,-1.21],[70.5,-1.16],[72.4,-1.27],[73.7,-1.42],[75.6,-1.32],[77.4,-1.21],[78.3,-0.6],[79.7,-0.11],[82,-0.3],[83.9,-0.35],[85.7,-0.28],[87.1,0.01],[89.4,0.03],[118.8,0.01],[119.7,-0.09],[120,-0.19]];

// ---------- J: Australia ----------
const ausSeton = [[0,-1.42],[1.3,-1.62],[2.7,-1.32],[4.5,-1.42],[6.3,-1.32],[8.6,-1.42],[10.4,-1.32],[12.3,-1.21],[14.1,-1.21],[15.5,-0.3],[16.9,-0.3],[17.8,-0.09],[19.2,0.11],[20.1,0.47],[20.7,-0.5],[22.4,-0.6],[23.7,-0.65],[25.1,-0.81],[26,-1.42],[26.9,-1.11],[28.8,-0.81],[30.6,-0.7],[32.9,-0.76],[35.7,-0.72],[37.5,-0.7],[38.9,-0.35],[40.7,0.11],[42.1,0.19],[43.4,0.11],[45.3,0.01],[47.1,-0.04],[48.9,-0.3],[49.9,1.13],[51.2,1.34],[52.6,1.54],[54.4,1.56],[56.3,1.56],[59,1.54],[59.9,1.08],[61.8,1.05],[62.7,0.11],[63.6,-0.86],[65.4,-0.91],[66.8,-1.01],[67.7,0.01],[68.7,0.06],[69.6,0.42],[70.5,0.57],[70.9,1.9],[71.9,1.9],[72.8,0.98],[74.2,1.13],[75.1,0.83],[76.4,0.93],[77.4,0.52],[78.7,0.47],[80.1,0.52],[81,0.21],[81.9,0.01],[82.9,-0.3],[83.8,-0.65],[84.7,-0.24],[86.1,-0.5],[87.4,-0.52],[88.8,0.37],[91.1,0.42],[92.9,0.42],[98,0.44],[98.9,1.69],[99.4,0.72],[100.7,0.74],[102.1,0.62],[105.8,0.54],[109,0.5],[109.9,1.95],[111.3,1.95],[113.1,2.0],[114.9,1.95],[116.8,1.85],[119.1,1.74],[120,1.03]];
const ausMuller16 = [[0,-1.21],[1.3,-1.27],[2.7,-1.37],[4,-1.47],[5.4,-1.62],[6.8,-1.32],[8.2,-1.42],[9.5,-1.27],[10.4,-1.42],[11.4,-2.44],[12.3,-2.29],[13.2,-1.62],[14.1,-2.95],[15,-1.32],[15.9,-0.96],[17.8,-0.91],[19.2,-0.96],[20.1,-0.81],[20.7,-1.01],[21.4,-0.91],[23.7,-0.91],[26,-0.96],[28.8,-1.01],[31.5,-0.96],[34.3,-1.06],[36.1,-1.27],[37.9,-0.81],[39.3,-0.55],[41.2,-0.81],[42.5,-0.86],[43.3,-0.6],[43.9,-0.14],[47.1,-0.19],[50.8,-0.3],[52.6,-0.19],[54.9,-0.4],[56.3,-0.48],[59,-0.45],[59.9,0.16],[63.6,0.19],[65.4,0.16],[66.8,-0.35],[69.1,-0.45],[70.5,-0.4],[72.3,0.11],[74.6,0.32],[77.4,0.32],[78.7,0.27],[80.1,-0.14],[81.9,-0.32],[84.7,-0.35],[87.4,-0.24],[90.2,-0.09],[92.9,0.01],[96.6,0.06],[98.9,0.11],[100.3,1.64],[102.1,1.74],[103,1.9],[103.9,1.9],[104.9,1.44],[106.2,1.49],[107.6,1.95],[109,1.8],[109.9,1.64],[110.8,1.8],[114,1.83],[115.9,1.59],[118.6,1.49],[119.5,1.03],[120,0.83]];
const ausMuller19 = [[0,-0.81],[1.3,-0.76],[2.2,-0.7],[3.1,-1.01],[4.5,-1.16],[5.4,-1.32],[6.3,-1.78],[7.2,-1.62],[8.2,-1.52],[9.1,-1.16],[10.4,-1.01],[11.4,-1.01],[12.3,-0.4],[13.2,-0.35],[14.1,-0.5],[15,-0.3],[15.9,-0.55],[17.3,-0.14],[18.2,-0.19],[19.2,0.3],[20.1,-0.91],[20.7,-2.03],[21.9,-1.93],[23.3,-1.88],[25.1,-1.88],[25.6,-1.06],[26.9,-0.81],[28.3,-0.7],[29.7,-0.55],[31.1,-0.81],[32.4,-0.7],[32.9,-1.32],[33.8,-0.3],[36.1,-0.24],[37.9,-0.14],[39.8,-0.09],[43,-0.04],[43.9,0.06],[47.1,0.01],[48,-0.19],[48.9,-0.17],[50.8,-0.09],[54.4,-0.04],[58.1,0.03],[61.8,0.01],[65.4,-0.14],[66.4,-0.19],[67.7,0.47],[69.1,0.21],[70.5,0.11],[72.3,0.32],[74.6,0.42],[76,0.67],[76.9,0.52],[77.8,1.18],[79,1.39],[79.1,null],[100.6,null],[100.7,1.11],[103.9,1.15],[107.6,1.18],[109,1.23],[109.9,0.98],[111.3,1.03],[114.9,1.13],[117.7,1.29],[119.1,1.23],[120,0.57]];
const ausClennett = [[0,-0.91],[1.3,-0.81],[2.7,-1.32],[4,-2.13],[5.4,-1.93],[7,-2.69],[8.2,-1.37],[9.5,-1.21],[10.9,-1.11],[12.7,-0.45],[14.6,-0.48],[15.9,-0.4],[18.2,-0.5],[19.2,-0.19],[19.8,0.27],[20.7,-1.32],[21.3,-1.83],[22.4,-1.62],[23.7,-1.54],[25.1,-1.57],[26,-1.01],[27.9,-0.76],[29.2,-0.81],[30.6,-1.01],[32.4,-1.62],[33.8,-1.83],[35.2,-1.11],[36.6,-0.96],[37.9,-1.78],[39.3,-1.67],[40.2,-0.91],[41.6,-0.65],[42.5,-0.91],[43.3,-1.06],[43.9,0.11],[46.2,0.16],[47.6,0.62],[48.5,0.21],[49.4,0.16],[50.8,0.57],[52.2,0.32],[53.5,0.11],[54.4,-0.24],[56.3,-0.38],[59,-0.3],[59.9,0.01],[63.6,0.03],[67.3,0.01],[70.9,-0.04],[72.3,0.11],[74.6,0.42],[76.4,0.57],[78.3,0.6],[79.7,0.78],[80.6,0.81],[81.9,0.21],[83.8,0.21],[88.4,0.19],[92.9,0.21],[98.9,0.27],[100.3,0.88],[103.9,0.98],[107.6,1.05],[109.4,1.08],[110.8,0.78],[113.1,0.88],[114,1.08],[114.9,1.49],[115.9,0.98],[117.7,0.93],[119.1,0.88],[120,0.47]];
const ausTorsvik = [[0,-0.81],[1.3,-1.11],[2.7,-1.01],[4,-1.42],[5.9,-1.16],[7.7,-1.21],[9.1,-1.88],[10,-0.65],[10.9,-1.37],[12.3,-1.01],[13.2,-0.24],[14.1,-0.21],[14.8,-2.59],[15.8,-1.21],[16.9,-1.16],[18.7,-1.21],[20.1,-1.32],[21,-1.01],[23.3,-0.91],[25.1,-0.86],[27.4,-1.21],[28.8,-0.81],[32.4,-0.76],[34.3,-0.5],[37.9,-0.45],[41.6,-0.42],[43.4,-0.14],[47.1,-0.14],[48.9,-0.35],[50.8,-0.4],[52.6,-0.45],[53.5,0.83],[54.9,1.69],[56.3,2.2],[58.1,2.36],[59.5,2.26],[60.4,1.64],[61.3,1.95],[62.2,1.64],[65.4,1.44],[69.1,1.44],[70,1.34],[70.9,1.39],[72.3,2.05],[74.6,2.0],[76.4,2.05],[77.4,1.97],[78.7,2.41],[79.2,2.46],[80.6,1.74],[81.5,0.52],[82.9,-0.09],[84.7,-0.17],[85.6,0.52],[86.5,0.57],[89.3,0.62],[91.1,0.57],[92.9,0.52],[95.2,1.15],[96.2,1.13],[98,1.08],[99.4,0.57],[102.1,0.6],[106.7,0.57],[111.3,0.52],[115.9,0.5],[118.6,0.47],[120,-0.14]];

// ---------- K: Oceanic Plates ----------
const ocnSeton = [[0,-1.87],[1.1,-1.92],[2.5,-1.77],[3.9,-1.87],[5.7,-1.66],[7.5,-1.56],[8.9,-1.51],[10.3,-1.66],[11.7,-2.48],[12.6,-2.22],[14,-1.36],[15.8,-1.15],[17.7,-1.05],[19.5,-0.95],[22.3,-0.9],[25,-0.8],[26.9,-0.64],[28.7,-0.69],[31.4,-0.62],[34.2,-0.54],[35.3,-0.18],[36.2,-0.18],[37.1,-0.59],[39.7,-0.62],[42.5,-0.59],[45.2,-0.49],[47.1,-0.13],[48.5,-0.03],[49.8,0.02],[50.8,0.73],[52.1,0.94],[53.3,0.99],[54,1.32],[54.9,0.89],[56.3,1.11],[59,1.14],[60.9,0.84],[62.7,0.68],[65.5,0.66],[69.1,0.73],[70.5,0.81],[71.9,0.68],[73.7,0.77],[75.6,0.81],[77.4,0.81],[78.8,0.68],[80.2,0.53],[82,0.46],[83.9,0.28],[85.7,-0.03],[88.5,-0.13],[93.1,-0.18],[96.7,-0.23],[99,-0.29],[100,0.1],[102.3,0.05],[104.1,0.02],[105,-0.08],[107.3,-0.13],[109.2,-0.54],[110.6,-0.23],[112.4,-0.13],[113.3,-0.1],[115.6,0.04],[117,-0.23],[117.9,-0.36],[120,-0.29]];
const ocnMuller16 = [[0,-3.04],[1.1,-2.79],[2.5,-2.66],[3.7,-2.22],[4.6,-3.07],[5.5,-2.94],[6.4,-1.87],[8,-1.87],[9.4,-1.92],[10.8,-2.17],[12,-2.73],[13.1,-1.36],[14.9,-1.31],[16.7,-1.2],[18.6,-1.2],[19.5,-0.95],[21.3,-0.9],[23.2,-0.95],[23.9,-1.23],[25,-0.85],[26.9,-0.74],[28.7,-0.64],[31.4,-0.62],[34.2,-0.59],[37.9,-0.59],[39.7,-0.64],[42.5,-0.49],[45.2,-0.44],[47.1,-0.18],[49.8,0.02],[52.6,0.17],[54.4,0.38],[56.3,0.48],[58.6,0.46],[60,0.28],[63.6,0.19],[67.3,0.22],[68.2,0.46],[70.1,0.38],[74.7,0.33],[76.5,0.38],[78.3,0.46],[81.6,0.38],[83.9,0.17],[85.2,-0.13],[88.5,-0.21],[93.1,-0.29],[94.9,-0.42],[98.6,-0.44],[99.5,-0.49],[102.3,-0.44],[105,-0.46],[108.7,-0.44],[109.6,-0.62],[113.3,-0.62],[115.1,-0.56],[118.8,-0.59],[120,-0.74]];
const ocnMuller19 = [[0,-2.07],[1.1,-2.17],[2.5,-2.12],[3.9,-1.97],[4.8,-2.38],[5.5,-2.63],[6.2,-1.87],[7.5,-1.92],[8.5,-2.07],[9.4,-1.82],[10.3,-1.56],[11.2,-2.07],[12.1,-2.12],[12.6,-1.1],[14.9,-1.05],[16.7,-0.95],[19.5,-0.9],[23.2,-0.85],[25.9,-0.74],[27.8,-0.59],[29.6,-0.74],[34.2,-0.74],[37.9,-0.74],[39.7,-0.9],[41.6,-0.74],[45.2,-0.64],[47.1,-0.54],[48,-0.11],[49.8,-0.13],[52.6,0.02],[56.3,0.12],[59,0.15],[61.8,0.07],[63.6,0.02],[65.5,0.07],[68.2,0.38],[69.6,0.07],[71,0.12],[73.7,0.07],[74.7,-0.08],[76.5,0.09],[79.3,0.12],[82,0.02],[82.9,-0.39],[83.9,-0.44],[85.7,-0.32],[88.5,-0.32],[91.2,-0.36],[94,-0.36],[94.9,-0.8],[97.7,-0.83],[99.5,-0.64],[101.3,-0.29],[103.2,-0.34],[105,-0.39],[105.9,-0.32],[108.2,-0.34],[109.6,-0.64],[112.4,-0.64],[115.1,-0.69],[117.9,-0.77],[119.3,-0.9],[120,-0.8]];
const ocnClennett = [[0,-1.87],[2.5,-1.87],[3.9,-1.71],[5.2,-2.07],[6.2,-1.75],[8,-2.02],[9.8,-1.71],[11.2,-1.97],[12.1,-2.02],[12.8,-1.07],[14.9,-1.05],[16.7,-0.97],[19.5,-0.9],[23.2,-0.85],[25.9,-0.77],[27.8,-0.64],[29.6,-0.72],[34.2,-0.74],[37.9,-0.74],[39.7,-0.93],[41.6,-0.79],[45.2,-0.74],[47.1,-0.23],[48.9,-0.23],[52.6,-0.08],[56.3,0.07],[59,0.12],[61.8,0.02],[65.5,0.02],[68.2,0.33],[69.6,0.02],[71,0.07],[73.7,0.17],[74.7,0.07],[76.5,0.19],[79.3,0.22],[82,0.12],[82.9,-0.39],[83.9,-0.44],[85.7,-0.34],[93.1,-0.36],[94.9,-0.39],[98.6,-0.29],[99.5,-0.49],[100.4,-0.15],[104.1,-0.18],[106.9,-0.2],[109.6,-0.21],[113.3,-0.15],[116,-0.13],[118.8,-0.23],[120,-0.26]];
const ocnTorsvik = [[0,-1.71],[1.1,-1.87],[2.9,-1.46],[4.3,-1.82],[5.7,-1.77],[7.1,-2.07],[8,-2.38],[9.4,-1.92],[10.3,-2.28],[11.2,-2.07],[12.1,-2.12],[13.1,-1.36],[14.9,-1.15],[16.3,-0.85],[18.1,-0.9],[20,-0.85],[21.8,-0.9],[23.2,-0.54],[24.6,-0.85],[25.9,-0.74],[27.8,-0.39],[29.1,-0.64],[30.5,-0.74],[32.4,-1.05],[34.2,-1.15],[36,-1.05],[37.9,-0.95],[39.3,-0.85],[40.2,-0.49],[41.6,-0.39],[42.9,-0.18],[43.9,-0.36],[45.2,-0.13],[47.1,-0.11],[48.9,-0.08],[50.8,-0.03],[51.9,0.43],[53.1,0.12],[54.9,0.17],[56.3,0.77],[57.7,0.58],[59.5,0.33],[60.9,0.36],[62.7,0.22],[65.5,0.17],[68.2,0.33],[70.1,0.48],[71.4,0.79],[72.8,0.53],[74.7,0.33],[77.4,0.38],[78.8,0.58],[80.2,0.48],[82,0.38],[83.9,0.22],[85.7,-0.08],[87.5,-0.18],[90.3,-0.29],[93.1,-0.34],[94.9,-0.49],[98.6,-0.49],[102.3,-0.54],[106.9,-0.56],[109.6,-0.59],[111.4,-0.64],[115.1,-0.66],[117.9,-0.74],[120,-0.8]];

// ---------- L: All Plates ----------
const allSeton = [[0,-0.8],[1.3,-0.69],[3.1,-0.74],[5.9,-0.74],[7.7,-0.64],[9.5,-0.62],[11.4,-0.64],[13.2,-0.49],[15,-0.59],[16.9,-0.54],[18.7,-0.49],[19.6,-0.34],[21.4,-0.39],[24.2,-0.44],[26.9,-0.44],[28.8,-0.39],[31.5,-0.49],[34.3,-0.39],[37,-0.29],[38.9,-0.18],[40.2,0.07],[41.6,0.15],[45.3,0.19],[47.1,0.12],[48.5,0.38],[49.9,0.79],[51.2,0.94],[53.1,1.04],[54,0.89],[55.4,1.04],[59,1.04],[59.9,0.68],[61.8,0.48],[63.6,0.33],[65.4,0.28],[66.8,0.38],[68.2,0.48],[69.6,0.63],[70.9,0.73],[72.3,0.63],[73.2,0.94],[74.6,0.77],[76.4,0.81],[78.3,0.89],[80.1,1.04],[81.9,1.14],[83.3,0.73],[85.6,0.7],[88.4,0.63],[91.1,0.6],[94.8,0.58],[98.4,0.53],[99.8,0.99],[102.1,0.97],[104.9,1.04],[106.7,0.94],[109.4,0.89],[113.1,0.91],[115.9,0.84],[118.6,0.68],[120,0.53]];
const allMuller16 = [[0,-0.93],[1.3,-0.9],[3.1,-0.8],[4.5,-1.05],[5.9,-0.74],[7.7,-0.74],[9.5,-0.69],[10.9,-0.85],[11.8,-1.03],[12.7,-0.59],[14.1,-0.74],[15.9,-0.59],[17.8,-0.54],[19.6,-0.56],[21.4,-0.54],[24.2,-0.52],[26.9,-0.52],[29.7,-0.54],[32.4,-0.59],[34.3,-0.52],[37,-0.44],[39.8,-0.39],[42.5,-0.36],[45.3,-0.29],[47.1,-0.08],[48.9,-0.03],[50.8,0.05],[52.6,0.09],[55.4,0.02],[58.1,-0.01],[60.9,0.02],[63.6,0.04],[66.4,0.12],[68.2,0.15],[69.6,-0.01],[71.9,0],[74.6,0.02],[77.4,0.12],[78.7,0.26],[80.1,0.19],[82.9,0.15],[85.6,0.15],[88.4,0.12],[90.2,-0.01],[92.9,-0.01],[96.6,-0.03],[100.3,-0.01],[103,0.02],[104.9,0.17],[107.6,0.22],[111.3,0.19],[114.9,0.17],[117.7,0.17],[120,0.17]];
const allMuller19 = [[0,-0.95],[2.7,-0.97],[4.5,-1.1],[5.9,-0.95],[7.7,-0.95],[9.1,-0.69],[10.4,-0.85],[12.3,-0.54],[14.1,-0.44],[15.9,-0.39],[17.8,-0.34],[19.6,-0.39],[20.5,-0.59],[22.4,-0.59],[25.1,-0.56],[26.9,-0.49],[28.3,-0.34],[29.7,-0.49],[31.1,-0.62],[32.4,-0.69],[34.3,-0.64],[36.1,-0.69],[37.9,-0.69],[39.8,-0.83],[41.2,-0.64],[43,-0.59],[44.4,-0.44],[45.7,-0.29],[47.1,-0.08],[48,0.09],[49.4,0.12],[50.8,0.22],[52.6,0.28],[54.4,0.28],[56.3,0.33],[59,0.4],[60.9,0.4],[62.7,0.7],[63.6,0.58],[65,0.28],[66.4,0.26],[67.7,0.38],[69.1,0.48],[70.9,0.43],[72.8,0.48],[74.6,0.5],[76.4,0.63],[78.3,0.68],[80.1,0.89],[81.5,0.89],[82.9,0.53],[84.2,0.7],[86.5,0.73],[88.4,0.73],[89.7,0.53],[92.9,0.48],[95.7,0.43],[98.4,0.38],[99.8,0.53],[101.2,0.43],[103,0.48],[104.9,0.33],[107.6,0.43],[109.4,0.33],[113.1,0.33],[115.4,0.36],[116.8,0.22],[120,0.22]];
const allClennett = [[0,-0.93],[2.7,-0.98],[4.9,-1.13],[6.3,-0.95],[8.2,-1.0],[9.5,-0.69],[11.4,-0.69],[12.7,-0.49],[14.6,-0.44],[16.9,-0.42],[18.7,-0.39],[19.6,-0.44],[20.5,-0.59],[23.3,-0.59],[26,-0.54],[28.3,-0.42],[29.7,-0.54],[31.5,-0.64],[32.9,-0.74],[34.3,-0.64],[37,-0.69],[39.8,-0.69],[41.6,-0.64],[43.9,-0.59],[45.7,-0.34],[47.1,-0.15],[48.9,-0.13],[52.6,-0.11],[56.3,-0.08],[58.1,-0.03],[60,0.02],[61.8,0.09],[63.6,0.12],[65.4,0.17],[67.3,0.28],[69.1,0.38],[70.9,0.38],[73.7,0.46],[76.4,0.5],[78.3,0.56],[80.1,0.63],[81.5,0.58],[82.9,0.38],[84.2,0.43],[85.6,0.41],[88.4,0.22],[90.2,0.02],[92.9,0.02],[96.6,0.07],[98.9,0.12],[100.3,0.19],[102.1,0.17],[105.8,0.22],[108.5,0.22],[111.3,0.17],[114.9,0.12],[117.7,0.12],[119.1,0.02],[120,-0.08]];
const allTorsvik = [[0,-0.69],[1.3,-0.66],[2.7,-0.54],[4.9,-0.59],[6.8,-0.59],[8.6,-0.69],[10.4,-0.56],[12.3,-0.54],[14.1,-0.39],[15.5,-0.34],[16.9,-0.18],[18.2,-0.23],[19.6,-0.08],[20.5,-0.05],[21.4,0.07],[23.3,0.05],[25.1,-0.03],[26.9,-0.08],[28.8,-0.23],[31.5,-0.29],[34.3,-0.21],[37,-0.18],[38.9,-0.13],[39.8,0.17],[41.6,0.22],[43,0.33],[43.9,0.22],[45.3,0.28],[47.1,0.17],[48.9,0.07],[50.3,0.17],[51.7,0.43],[53.5,0.53],[55.4,0.68],[57.2,0.73],[59,0.63],[60.9,0.48],[62.7,0.38],[64.5,0.38],[66.4,0.36],[68.2,0.48],[69.6,1.04],[71.4,1.09],[72.3,0.84],[73.7,0.81],[75.5,1.04],[77.4,1.09],[78.7,1.24],[79.7,0.99],[81,0.89],[82.4,0.84],[83.8,1.04],[85.6,0.99],[87.4,0.94],[89.3,0.91],[91.1,0.99],[92.9,1.01],[95.7,1.04],[98.9,1.01],[99.8,0.73],[102.1,0.79],[105.8,0.68],[109.4,0.58],[113.1,0.53],[115.9,0.43],[118.6,0.38],[120,0.38]];

// ---------- figure layout ----------
const svg = d3.select("#fig");
const colLeft = [69.5, 648.6];
const fullWidth = 483.5;
const pxPerMa = fullWidth / 120;
const rowTop = r => 39.5 + 259.4 * r;
const plotH = 216.4;
const yDomain = [-4.1, 2.5];
const colors = ["#e6a11b", "#556b2f", "#00008b", "#6495ed", "#8b008b"];
const spineColor = "#555";

const panels = [
  {key: "A", title: "Pacific", col: 0, row: 0, dom: [0, 120], data: [pacSeton, pacMuller16, pacMuller19, pacClennett, pacTorsvik]},
  {key: "B", title: "Farallon", col: 1, row: 0, dom: [0, 120], data: [farSeton, farMuller16, farMuller19, farClennett, farTorsvik]},
  {key: "C", title: "Cocos", col: 0, row: 1, dom: [0, 25], data: [cocSeton, cocMuller16, cocMuller19, cocClennett, cocTorsvik]},
  {key: "D", title: "Kula", col: 0, row: 1, dom: [35, 120], noY: true, data: [kulSeton, kulMuller16, kulMuller19, kulClennett, kulTorsvik]},
  {key: "E", title: "Nazca", col: 1, row: 1, dom: [0, 25], data: [nazSeton, nazMuller16, nazMuller19, nazClennett, nazTorsvik]},
  {key: "F", title: "Izanagi", col: 1, row: 1, dom: [35, 120], noY: true, data: [izaSeton, izaMuller16, izaMuller19, izaClennett, izaTorsvik]},
  {key: "G", title: "North America", col: 0, row: 2, dom: [0, 120], data: [naSeton, naMuller16, naMuller19, naClennett, naTorsvik]},
  {key: "H", title: "South America", col: 1, row: 2, dom: [0, 120], data: [saSeton, saMuller16, saMuller19, saClennett, saTorsvik]},
  {key: "I", title: "India", col: 0, row: 3, dom: [0, 120], indo: true, data: [indSeton, indMuller16, indMuller19, indClennett, indTorsvik]},
  {key: "J", title: "Australia", col: 1, row: 3, dom: [0, 120], indo: true, data: [ausSeton, ausMuller16, ausMuller19, ausClennett, ausTorsvik]},
  {key: "K", title: "Oceanic Plates", col: 0, row: 4, dom: [0, 120], bottom: true, data: [ocnSeton, ocnMuller16, ocnMuller19, ocnClennett, ocnTorsvik]},
  {key: "L", title: "All Plates", col: 1, row: 4, dom: [0, 120], bottom: true, yLabels: yTickLabelsAllPlates, data: [allSeton, allMuller16, allMuller19, allClennett, allTorsvik]}
];

panels.forEach((p, i) => {
  const left = colLeft[p.col] + p.dom[0] * pxPerMa;
  const width = (p.dom[1] - p.dom[0]) * pxPerMa;
  const top = rowTop(p.row);
  const bottom = top + plotH;
  const x = d3.scaleLinear().domain(p.dom).range([left, left + width]);
  const y = d3.scaleLinear().domain(yDomain).range([bottom, top]);
  const g = svg.append("g");

  // shaded halves above/below zero
  g.append("rect").attr("x", left).attr("y", top).attr("width", width).attr("height", y(0) - top).attr("fill", "#f5f5f5");
  g.append("rect").attr("x", left).attr("y", y(0)).attr("width", width).attr("height", bottom - y(0)).attr("fill", "#e5f0e4");

  // zero reference line
  g.append("line").attr("x1", left).attr("x2", left + width).attr("y1", y(0)).attr("y2", y(0))
    .attr("stroke", "#000").attr("stroke-width", 1.5);

  // clip region for the series
  const clipId = "clip" + i;
  g.append("clipPath").attr("id", clipId).append("rect")
    .attr("x", left).attr("y", top).attr("width", width).attr("height", plotH);

  const line = d3.line().defined(d => d[1] !== null).x(d => x(d[0])).y(d => y(d[1]));
  const lines = g.append("g").attr("clip-path", `url(#${clipId})`);
  p.data.forEach((series, k) => {
    lines.append("path").datum(series).attr("d", line)
      .attr("fill", "none").attr("stroke", colors[k]).attr("stroke-width", 1.5)
      .attr("stroke-linejoin", "round");
  });

  // Indo-Australian plate interval
  if (p.indo) {
    indoAustralianSpan.forEach(a => {
      g.append("line").attr("x1", x(a)).attr("x2", x(a)).attr("y1", top).attr("y2", bottom)
        .attr("stroke", "#111").attr("stroke-width", 1.5).attr("stroke-dasharray", "5,3");
    });
    const cx = x(32.3);
    ["Indo-", "Australian", "Plate"].forEach((s, j) => {
      g.append("text").attr("x", cx).attr("y", top + 17.5 + j * 21.7).attr("text-anchor", "middle")
        .style("font-size", "17.5px").text(s);
    });
    const ay = y(0.44), ax1 = x(22.4), ax2 = x(41.5);
    g.append("line").attr("x1", ax1).attr("x2", ax2).attr("y1", ay).attr("y2", ay).attr("stroke", "#000").attr("stroke-width", 1);
    g.append("path").attr("d", `M${ax1 + 6},${ay - 3.5}L${ax1},${ay}L${ax1 + 6},${ay + 3.5}M${ax2 - 6},${ay - 3.5}L${ax2},${ay}L${ax2 - 6},${ay + 3.5}`)
      .attr("fill", "none").attr("stroke", "#000").attr("stroke-width", 1);
  }

  // frame
  g.append("rect").attr("x", left).attr("y", top).attr("width", width).attr("height", plotH)
    .attr("fill", "none").attr("stroke", spineColor).attr("stroke-width", 1.3);

  // x axis
  const xt = xTickValues.filter(v => v >= p.dom[0] && v <= p.dom[1]);
  const xa = g.append("g").attr("transform", `translate(0,${bottom})`)
    .call(d3.axisBottom(x).tickValues(xt).tickSize(4).tickPadding(4).tickFormat(p.bottom ? d3.format("d") : () => ""));
  xa.select(".domain").remove();
  xa.selectAll(".tick line").attr("stroke", spineColor).attr("stroke-width", 1.2);
  xa.selectAll(".tick text").style("font-size", "16.5px").attr("fill", "#000").style("font-family", "'Liberation Sans', Arial, sans-serif");

  if (p.bottom) {
    g.append("text").attr("x", left + width / 2).attr("y", 1332).attr("text-anchor", "middle")
      .style("font-size", "19.5px").text("Age (Ma)");
  }

  // y axis
  if (!p.noY) {
    const labels = p.yLabels || yTickLabels;
    const ya = g.append("g").attr("transform", `translate(${left},0)`)
      .call(d3.axisLeft(y).tickValues(yTickValues).tickSize(4).tickPadding(6).tickFormat((d, j) => labels[j]));
    ya.select(".domain").remove();
    ya.selectAll(".tick line").attr("stroke", spineColor).attr("stroke-width", 1.2);
    ya.selectAll(".tick text").style("font-size", "16.5px").attr("fill", "#000").style("font-family", "'Liberation Sans', Arial, sans-serif");

    const yl = g.append("text")
      .attr("transform", `translate(${left - 39},${top + plotH / 2}) rotate(-90)`)
      .attr("text-anchor", "middle").style("font-size", "19px");
    yl.append("tspan").text("log(\u03c4");
    yl.append("tspan").attr("dy", 4.5).style("font-size", "13.3px").text("residual");
    yl.append("tspan").attr("dy", -4.5).text("\\\u03c4");
    yl.append("tspan").attr("dy", 4.5).style("font-size", "13.3px").text("driving");
    yl.append("tspan").attr("dy", -4.5).text(")");
  }

  // panel letter
  const bx = p.noY ? left - 32.2 : left - 59.1;
  g.append("rect").attr("x", bx).attr("y", top - 29).attr("width", 30).attr("height", 28.5)
    .attr("fill", "#fff").attr("stroke", "#333").attr("stroke-width", 1);
  g.append("text").attr("x", bx + 15).attr("y", top - 7).attr("text-anchor", "middle")
    .style("font-size", "22px").text(p.key);

  // title
  g.append("text").attr("x", left + width / 2).attr("y", top - 6).attr("text-anchor", "middle")
    .style("font-size", "22.5px").text(p.title);
});

// ---------- legend ----------
const lg = svg.append("g");
lg.append("rect").attr("x", 254).attr("y", 1355.7).attr("width", 692).attr("height", 70).attr("rx", 4)
  .attr("fill", "#fff").attr("stroke", "#d0d0d0").attr("stroke-width", 1);
const legendSlots = [
  {k: 0, x: 260.7, y: 1370},
  {k: 2, x: 490, y: 1370},
  {k: 4, x: 737.7, y: 1370},
  {k: 1, x: 378, y: 1395},
  {k: 3, x: 608, y: 1395}
];
legendSlots.forEach(s => {
  lg.append("line").attr("x1", s.x).attr("x2", s.x + 37).attr("y1", s.y).attr("y2", s.y)
    .attr("stroke", colors[s.k]).attr("stroke-width", 1.5);
  lg.append("text").attr("x", s.x + 51).attr("y", s.y + 6.2).style("font-size", "17.5px").text(seriesNames[s.k]);
});
</script>
</body>
</html>
